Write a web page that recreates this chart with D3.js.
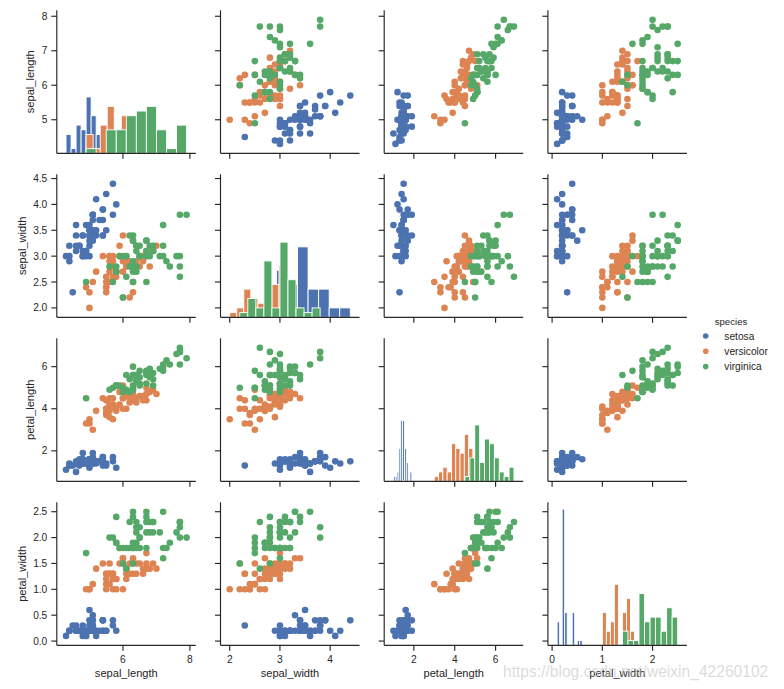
<!DOCTYPE html>
<html><head><meta charset="utf-8">
<script src="https://cdn.jsdelivr.net/npm/d3@7"></script>
<style>body{margin:0;background:#fff} svg{display:block}</style>
</head><body>
<svg id="chart" width="784" height="689"></svg>
<script>
const speciesNames = ["setosa", "versicolor", "virginica"];
const speciesColors = ["#4C72B0", "#DD8452", "#55A868"];
const variables = ["sepal_length", "sepal_width", "petal_length", "petal_width"];

const sepal_length = [
5.1,4.9,4.7,4.6,5.0,5.4,4.6,5.0,4.4,4.9,5.4,4.8,4.8,4.3,5.8,5.7,5.4,5.1,5.7,5.1,5.4,5.1,4.6,5.1,4.8,5.0,5.0,5.2,5.2,4.7,4.8,5.4,5.2,5.5,4.9,5.0,5.5,4.9,4.4,5.1,5.0,4.5,4.4,5.0,5.1,4.8,5.1,4.6,5.3,5.0,
7.0,6.4,6.9,5.5,6.5,5.7,6.3,4.9,6.6,5.2,5.0,5.9,6.0,6.1,5.6,6.7,5.6,5.8,6.2,5.6,5.9,6.1,6.3,6.1,6.4,6.6,6.8,6.7,6.0,5.7,5.5,5.5,5.8,6.0,5.4,6.0,6.7,6.3,5.6,5.5,5.5,6.1,5.8,5.0,5.6,5.7,5.7,6.2,5.1,5.7,
6.3,5.8,7.1,6.3,6.5,7.6,4.9,7.3,6.7,7.2,6.5,6.4,6.8,5.7,5.8,6.4,6.5,7.7,7.7,6.0,6.9,5.6,7.7,6.3,6.7,7.2,6.2,6.1,6.4,7.2,7.4,7.9,6.4,6.3,6.1,7.7,6.3,6.4,6.0,6.9,6.7,6.9,5.8,6.8,6.7,6.7,6.3,6.5,6.2,5.9];
const sepal_width = [
3.5,3.0,3.2,3.1,3.6,3.9,3.4,3.4,2.9,3.1,3.7,3.4,3.0,3.0,4.0,4.4,3.9,3.5,3.8,3.8,3.4,3.7,3.6,3.3,3.4,3.0,3.4,3.5,3.4,3.2,3.1,3.4,4.1,4.2,3.1,3.2,3.5,3.6,3.0,3.4,3.5,2.3,3.2,3.5,3.8,3.0,3.8,3.2,3.7,3.3,
3.2,3.2,3.1,2.3,2.8,2.8,3.3,2.4,2.9,2.7,2.0,3.0,2.2,2.9,2.9,3.1,3.0,2.7,2.2,2.5,3.2,2.8,2.5,2.8,2.9,3.0,2.8,3.0,2.9,2.6,2.4,2.4,2.7,2.7,3.0,3.4,3.1,2.3,3.0,2.5,2.6,3.0,2.6,2.3,2.7,3.0,2.9,2.9,2.5,2.8,
3.3,2.7,3.0,2.9,3.0,3.0,2.5,2.9,2.5,3.6,3.2,2.7,3.0,2.5,2.8,3.2,3.0,3.8,2.6,2.2,3.2,2.8,2.8,2.7,3.3,3.2,2.8,3.0,2.8,3.0,2.8,3.8,2.8,2.8,2.6,3.0,3.4,3.1,3.0,3.1,3.1,3.1,2.7,3.2,3.3,3.0,2.5,3.0,3.4,3.0];
const petal_length = [
1.4,1.4,1.3,1.5,1.4,1.7,1.4,1.5,1.4,1.5,1.5,1.6,1.4,1.1,1.2,1.5,1.3,1.4,1.7,1.5,1.7,1.5,1.0,1.7,1.9,1.6,1.6,1.5,1.4,1.6,1.6,1.5,1.5,1.4,1.5,1.2,1.3,1.4,1.3,1.5,1.3,1.3,1.3,1.6,1.9,1.4,1.6,1.4,1.5,1.4,
4.7,4.5,4.9,4.0,4.6,4.5,4.7,3.3,4.6,3.9,3.5,4.2,4.0,4.7,3.6,4.4,4.5,4.1,4.5,3.9,4.8,4.0,4.9,4.7,4.3,4.4,4.8,5.0,4.5,3.5,3.8,3.7,3.9,5.1,4.5,4.5,4.7,4.4,4.1,4.0,4.4,4.6,4.0,3.3,4.2,4.2,4.2,4.3,3.0,4.1,
6.0,5.1,5.9,5.6,5.8,6.6,4.5,6.3,5.8,6.1,5.1,5.3,5.5,5.0,5.1,5.3,5.5,6.7,6.9,5.0,5.7,4.9,6.7,4.9,5.7,6.0,4.8,4.9,5.6,5.8,6.1,6.4,5.6,5.1,5.6,6.1,5.6,5.5,4.8,5.4,5.6,5.1,5.1,5.9,5.7,5.2,5.0,5.2,5.4,5.1];
const petal_width = [
0.2,0.2,0.2,0.2,0.2,0.4,0.3,0.2,0.2,0.1,0.2,0.2,0.1,0.1,0.2,0.4,0.4,0.3,0.3,0.3,0.2,0.4,0.2,0.5,0.2,0.2,0.4,0.2,0.2,0.2,0.2,0.4,0.1,0.2,0.2,0.2,0.2,0.1,0.2,0.2,0.3,0.3,0.2,0.6,0.4,0.3,0.2,0.2,0.2,0.2,
1.4,1.5,1.5,1.3,1.5,1.3,1.6,1.0,1.3,1.4,1.0,1.5,1.0,1.4,1.3,1.4,1.5,1.0,1.5,1.1,1.8,1.3,1.5,1.2,1.3,1.4,1.4,1.7,1.5,1.0,1.1,1.0,1.2,1.6,1.5,1.6,1.5,1.3,1.3,1.3,1.2,1.4,1.2,1.0,1.3,1.2,1.3,1.3,1.1,1.3,
2.5,1.9,2.1,1.8,2.2,2.1,1.7,1.8,1.8,2.5,2.0,1.9,2.1,2.0,2.4,2.3,1.8,2.2,2.3,1.5,2.3,2.0,2.0,1.8,2.1,1.8,1.8,1.8,2.1,1.6,1.9,2.0,2.2,1.5,1.4,2.3,2.4,1.8,1.8,2.1,2.4,2.3,1.9,2.3,2.5,2.3,1.9,2.0,2.3,1.8];
const speciesCounts = [50, 50, 50];
const species = speciesCounts.flatMap((n, k) => Array(n).fill(speciesNames[k]));

const xTickValues = [[6, 8], [2, 3, 4], [2, 4, 6], [0, 1, 2]];
const yTickValues = [[5, 6, 7, 8], [2.0, 2.5, 3.0, 3.5, 4.0, 4.5], [2, 4, 6], [0.0, 0.5, 1.0, 1.5, 2.0, 2.5]];
const yTickFormats = ["d", ".1f", "d", ".1f"];
const xTickFormats = ["d", "d", "d", "d"];
const histBins = 10;
const watermark = "https://blog.csdn.net/weixin_42260102";

// ---------- layout ----------
const W = 784, H = 689;
const FONT = "'Liberation Sans', Arial, sans-serif";
const INK = "#262626";
const left0 = 56.8, colStep = 163.7, pw = 139;
const top0 = 10.3, rowStep = 164, ph = 143;
const markerPadPx = 3.2, dotR = 3.3;
const tickLen = 5.5, tickPad = 4.0, axisW = 1.15;

const columns = { sepal_length, sepal_width, petal_length, petal_width };
const rows = species.map((s, i) => ({ species: s, sepal_length: sepal_length[i], sepal_width: sepal_width[i], petal_length: petal_length[i], petal_width: petal_width[i] }));

function autoDomain(vals, lenPx) {
  const [mn, mx] = d3.extent(vals);
  const R = mx - mn;
  const s = (lenPx - 2 * markerPadPx) / (1.1 * R);
  const p = 0.05 * R + markerPadPx / s;
  return [mn - p, mx + p];
}

const xScales = variables.map((v, j) => d3.scaleLinear().domain(autoDomain(columns[v], pw)).range([left0 + j * colStep, left0 + j * colStep + pw]));
const yScales = variables.map((v, i) => d3.scaleLinear().domain(autoDomain(columns[v], ph)).range([top0 + i * rowStep + ph, top0 + i * rowStep]));

// numpy-like histogram (10 equal bins over each group's own range)
function npHist(vals) {
  const mn = d3.min(vals), mx = d3.max(vals), n = histBins;
  const step = (mx - mn) / n;
  const edges = d3.range(n + 1).map(i => i * step + mn); edges[n] = mx;
  const counts = new Array(n).fill(0);
  const norm = n / (mx - mn);
  for (const v of vals) {
    let idx = Math.floor((v - mn) * norm);
    if (idx === n) idx = n - 1;
    if (v < edges[idx]) idx--;
    if (idx !== n - 1 && v >= edges[idx + 1]) idx++;
    counts[idx]++;
  }
  return counts.map((c, i) => ({ x0: edges[i], x1: edges[i + 1], count: c }));
}

const hists = variables.map(v => speciesNames.map(sp => npHist(rows.filter(r => r.species === sp).map(r => r[v]))));
const maxCount = d3.max(hists.flat(2), d => d.count);

const svg = d3.select("#chart");
svg.append("rect").attr("width", W).attr("height", H).attr("fill", "#fff");

variables.forEach((yv, i) => {
  variables.forEach((xv, j) => {
    const x = xScales[j], y = yScales[i];
    const g = svg.append("g");
    const [x0, x1] = x.range(), [yb, yt] = y.range();
    if (i === j) {
      const cy = d3.scaleLinear().domain([0, maxCount * 1.05]).range([yb, yt]);
      hists[j].forEach((bins, k) => {
        g.append("g").selectAll("rect").data(bins.filter(b => b.count > 0)).join("rect")
          .attr("x", b => x(b.x0)).attr("width", b => x(b.x1) - x(b.x0))
          .attr("y", b => cy(b.count)).attr("height", b => cy(0) - cy(b.count))
          .attr("fill", speciesColors[k]).attr("stroke", "#fff").attr("stroke-width", 0.9);
      });
    } else {
      speciesNames.forEach((sp, k) => {
        g.append("g").selectAll("circle").data(rows.filter(r => r.species === sp)).join("circle")
          .attr("cx", r => x(r[xv])).attr("cy", r => y(r[yv])).attr("r", dotR)
          .attr("fill", speciesColors[k]);
      });
    }
    // axes (ticks style, despined)
    const ax = svg.append("g");
    ax.append("line").attr("x1", x0).attr("x2", x0).attr("y1", yt).attr("y2", yb).attr("stroke", INK).attr("stroke-width", axisW);
    ax.append("line").attr("x1", x0).attr("x2", x1).attr("y1", yb).attr("y2", yb).attr("stroke", INK).attr("stroke-width", axisW);
    yTickValues[i].forEach(t => {
      ax.append("line").attr("x1", x0).attr("x2", x0 - tickLen).attr("y1", y(t)).attr("y2", y(t)).attr("stroke", INK).attr("stroke-width", axisW);
    });
    xTickValues[j].forEach(t => {
      ax.append("line").attr("x1", x(t)).attr("x2", x(t)).attr("y1", yb).attr("y2", yb + tickLen).attr("stroke", INK).attr("stroke-width", axisW);
    });
    if (j === 0) {
      const fmt = d3.format(yTickFormats[i]);
      const lab = ax.append("g");
      yTickValues[i].forEach(t => {
        lab.append("text").attr("x", x0 - tickLen - tickPad).attr("y", y(t)).attr("dy", "0.35em")
          .attr("text-anchor", "end").attr("font-family", FONT).attr("font-size", 10.2).attr("fill", INK).text(fmt(t));
      });
      const bb = lab.node().getBBox();
      const bx = bb.x - 7.6;
      svg.append("text").attr("transform", `translate(${bx},${(yt + yb) / 2}) rotate(-90)`)
        .attr("text-anchor", "middle").attr("font-family", FONT).attr("font-size", 11.1).attr("fill", INK).text(yv);
    }
    if (i === variables.length - 1) {
      const fmt = d3.format(xTickFormats[j]);
      xTickValues[j].forEach(t => {
        ax.append("text").attr("x", x(t)).attr("y", yb + tickLen + tickPad + 8.6)
          .attr("text-anchor", "middle").attr("font-family", FONT).attr("font-size", 10.2).attr("fill", INK).text(fmt(t));
      });
      svg.append("text").attr("x", (x0 + x1) / 2).attr("y", 676.5)
        .attr("text-anchor", "middle").attr("font-family", FONT).attr("font-size", 11.1).attr("fill", INK).text(xv);
    }
  });
});

// legend
const lg = svg.append("g");
lg.append("text").attr("x", 731).attr("y", 325).attr("text-anchor", "middle").attr("font-family", FONT).attr("font-size", 9.6).attr("fill", INK).text("species");
speciesNames.forEach((sp, k) => {
  const cy = 336 + k * 15.3;
  lg.append("circle").attr("cx", 705.7).attr("cy", cy).attr("r", 2.8).attr("fill", speciesColors[k]);
  lg.append("text").attr("x", 724.3).attr("y", cy).attr("dy", "0.35em").attr("font-family", FONT).attr("font-size", 10.2).attr("fill", INK).text(sp);
});

// watermark (overlaps the last x label, as in the reference)
svg.append("text").attr("x", 503).attr("y", 677).attr("font-family", FONT).attr("font-size", 15.6).attr("fill", "#c4c4c4").attr("fill-opacity", 0.6).text(watermark);
</script>
</body></html>
